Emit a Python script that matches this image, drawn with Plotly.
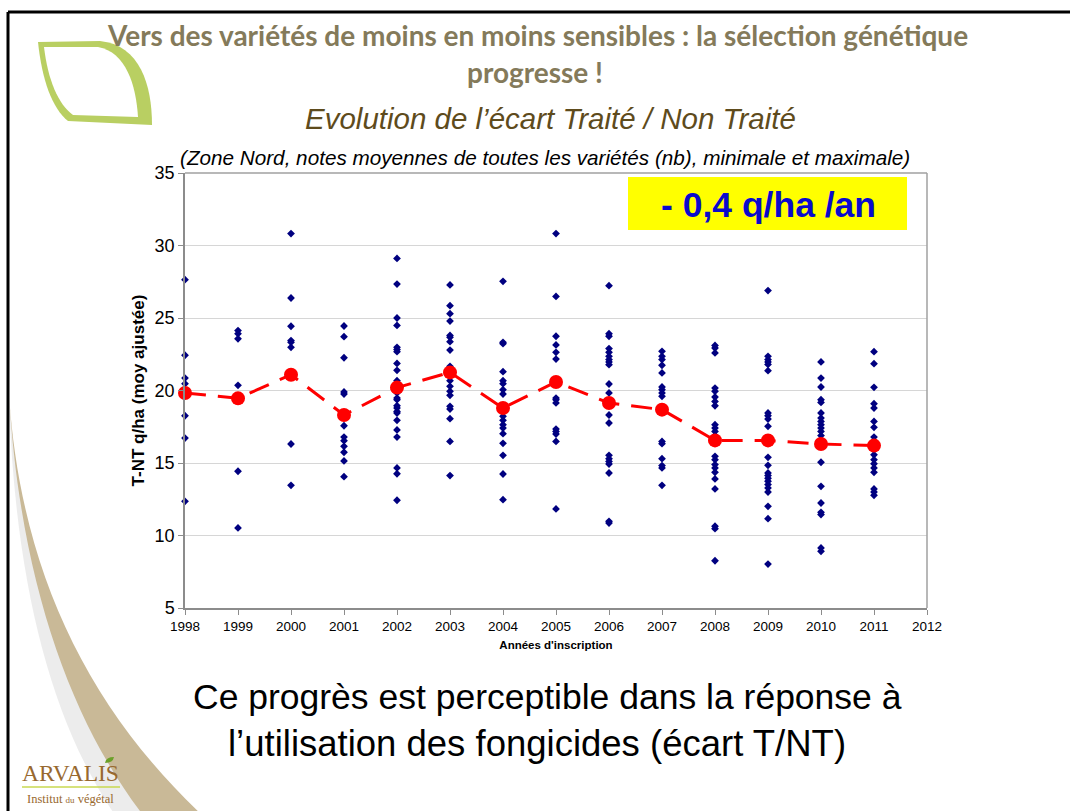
import plotly.graph_objects as go

# ---------------- data ----------------
years = [1998, 1999, 2000, 2001, 2002, 2003, 2004, 2005, 2006, 2007, 2008, 2009, 2010, 2011]

v1998 = [27.64, 22.43, 20.86, 20.47, 19.9, 18.26, 16.72, 12.36]
v1999 = [24.13, 23.92, 23.57, 20.36, 14.43, 10.52]
v2000 = [30.82, 26.38, 24.43, 23.44, 23.32, 22.98, 16.31, 13.46]
v2001 = [24.45, 23.71, 22.26, 19.9, 19.76, 18.2, 17.57, 16.79, 16.54, 16.15, 15.74, 15.14, 14.06]
v2002 = [29.11, 27.34, 25.0, 24.49, 22.98, 22.82, 22.68, 21.87, 21.39, 20.68, 19.83, 19.48,
         19.37, 18.95, 18.79, 18.56, 18.45, 17.94, 17.28, 16.79, 14.66, 14.26, 12.43]
v2003 = [27.28, 25.85, 25.3, 24.79, 23.8, 23.67, 23.37, 22.79, 21.67, 20.68, 20.29, 19.94,
         19.67, 18.91, 18.72, 18.06, 16.49, 14.13]
v2004 = [27.53, 23.32, 23.23, 21.3, 20.68, 20.47, 20.06, 19.76, 18.56, 18.22, 17.94, 17.64,
         17.41, 17.02, 16.36, 15.53, 14.24, 12.47]
v2005 = [30.82, 26.49, 23.74, 23.14, 22.63, 22.17, 19.48, 19.37, 19.14, 17.34, 17.18, 17.0,
         16.49, 11.83]
v2006 = [27.23, 23.92, 23.74, 22.89, 22.63, 22.36, 22.13, 21.97, 21.78, 20.45, 19.83, 18.31,
         17.76, 15.53, 15.3, 15.11, 14.93, 14.31, 10.98, 10.86]
v2007 = [22.7, 22.36, 22.13, 21.74, 21.21, 20.24, 20.06, 19.83, 19.6, 16.49, 16.33, 15.3,
         14.82, 14.66, 13.46]
v2008 = [23.11, 22.93, 22.59, 20.17, 19.94, 19.55, 19.25, 18.95, 17.64, 17.41, 17.18, 16.89,
         15.46, 15.23, 14.89, 14.66, 14.36, 13.9, 13.21, 10.64, 10.47, 8.26]
v2009 = [26.89, 22.36, 22.13, 21.97, 21.8, 21.37, 18.45, 18.26, 18.03, 17.53, 15.39, 14.84,
         14.31, 14.13, 13.94, 13.74, 13.51, 13.28, 13.0, 12.01, 11.16, 8.03]
v2010 = [21.97, 20.86, 20.24, 19.37, 19.18, 18.45, 18.1, 17.87, 17.64, 17.41, 17.18, 16.89,
         15.05, 13.39, 12.24, 11.6, 11.44, 9.14, 8.91]
v2011 = [22.68, 21.85, 20.22, 19.09, 18.79, 17.87, 17.46, 16.79, 16.49, 15.92, 15.57, 15.23,
         14.95, 14.66, 14.36, 13.21, 13.0, 12.77]

means = [19.83, 19.46, 21.09, 18.31, 20.2, 21.25, 18.79, 20.59, 19.14, 18.68, 16.56, 16.56, 16.31, 16.2]

x_ticks = list(range(1998, 2013))
y_ticks = [5, 10, 15, 20, 25, 30, 35]

per_year = [v1998, v1999, v2000, v2001, v2002, v2003, v2004, v2005, v2006, v2007,
            v2008, v2009, v2010, v2011]
sx, sy = [], []
for yr, vals in zip(years, per_year):
    sx += [yr] * len(vals)
    sy += vals

# ---------------- layout geometry (pixels) ----------------
W, H = 1070, 811
L, R, T, B = 185, 927, 173, 608


def px(x):
    return (x - L) / (R - L)


def py(y):
    return (B - y) / (B - T)


def path(cmds):
    out = []
    for c in cmds:
        if isinstance(c, str):
            out.append(c)
        else:
            out.append(f"{px(c[0]):.5f},{py(c[1]):.5f}")
    return " ".join(out)


fig = go.Figure()
fig.add_trace(go.Scatter(
    x=sx, y=sy, mode="markers", cliponaxis=False,
    marker=dict(symbol="diamond", size=6, color="#000080"),
    showlegend=False, hoverinfo="skip"))
fig.add_trace(go.Scatter(
    x=years, y=means, mode="lines+markers", cliponaxis=False,
    line=dict(color="#FF0000", width=3, dash="21px,12px"),
    marker=dict(symbol="circle", size=14, color="#FF0000"),
    showlegend=False, hoverinfo="skip"))

shapes = []
# slide frame (top + left)
shapes.append(dict(type="line", xref="paper", yref="paper", x0=px(8), y0=py(12), x1=px(1075), y1=py(12),
                   line=dict(color="black", width=3), layer="above"))
shapes.append(dict(type="line", xref="paper", yref="paper", x0=px(8), y0=py(12), x1=px(8), y1=py(815),
                   line=dict(color="black", width=3), layer="above"))
# leaf (green)
shapes.append(dict(type="path", xref="paper", yref="paper", layer="below",
                   path=path(["M", (38, 42), "L", (100, 41), "C", (140, 45), (152, 85), (152, 125),
                              "L", (68, 121), "C", (52, 108), (42, 80), (38, 42), "Z"]),
                   fillcolor="#B9CF62", line=dict(width=0)))
shapes.append(dict(type="path", xref="paper", yref="paper", layer="below",
                   path=path(["M", (44, 47), "L", (98, 47), "C", (126, 52), (136, 85), (138, 117),
                              "L", (73, 115), "C", (58, 104), (48, 80), (44, 47), "Z"]),
                   fillcolor="white", line=dict(width=0)))
# swoosh shadow + beige band
shapes.append(dict(type="path", xref="paper", yref="paper", layer="below",
                   path=path(["M", (9, 400), "C", (20, 560), (75, 700), (180, 815),
                              "L", (115, 815), "C", (50, 720), (15, 580), (9, 400), "Z"]),
                   fillcolor="rgba(150,150,150,0.18)", line=dict(width=0)))
shapes.append(dict(type="path", xref="paper", yref="paper", layer="below",
                   path=path(["M", (9, 395), "C", (20, 560), (80, 700), (202, 815),
                              "L", (143, 815), "C", (70, 720), (20, 580), (9, 395), "Z"]),
                   fillcolor="#C9B997", line=dict(width=0)))
# plot frame (top and right)
shapes.append(dict(type="line", xref="paper", yref="paper", x0=0, y0=1, x1=1, y1=1,
                   line=dict(color="#A0A0A0", width=1.5)))
shapes.append(dict(type="line", xref="paper", yref="paper", x0=1, y0=0, x1=1, y1=1,
                   line=dict(color="#A0A0A0", width=1.5)))
# yellow box
shapes.append(dict(type="rect", xref="paper", yref="paper", x0=px(628), y0=py(230), x1=px(907), y1=py(177),
                   fillcolor="#FFFF00", line=dict(width=0), layer="below"))
# logo underline and leaf
shapes.append(dict(type="line", xref="paper", yref="paper", x0=px(22), y0=py(787), x1=px(120), y1=py(787),
                   line=dict(color="#C8D850", width=1.5)))
shapes.append(dict(type="path", xref="paper", yref="paper",
                   path=path(["M", (105, 763), "Q", (106, 757), (114, 757), "Q", (113, 763), (105, 763), "Z"]),
                   fillcolor="#6BA02A", line=dict(width=0)))

ann = []


def text(t, x, y, size, color, family, xanchor="center", yanchor="middle", **kw):
    ann.append(dict(text=t, x=px(x), y=py(y), xref="paper", yref="paper", showarrow=False,
                    xanchor=xanchor, yanchor=yanchor,
                    font=dict(size=size, color=color, family=family), **kw))


text("<b>Vers des variétés de moins en moins sensibles : la sélection génétique</b>", 537, 35, 28,
     "#847A5A", "Lato")
text("<b>progresse !</b>", 535, 72, 28, "#847A5A", "Lato")
text("<i>Evolution de l’écart Traité / Non Traité</i>", 550, 118, 29.5, "#5E4B1C", "Liberation Sans")
text("<i>(Zone Nord, notes moyennes de toutes les variétés (nb), minimale et maximale)</i>", 545, 157,
     20.7, "black", "Liberation Sans")
text("<b>- 0,4 q/ha /an</b>", 768, 205, 35.5, "#0A0ACC", "Liberation Sans")
text("Ce progrès est perceptible dans la réponse à", 547, 697, 35.5, "black", "Liberation Sans")
text("l’utilisation des fongicides (écart T/NT)", 537, 743, 36.5, "black", "Liberation Sans")
text("ARVALIS", 70, 773, 23.5, "#98692F", "Liberation Serif")
text("Institut <span style='font-size:9px'>du</span> végétal", 70, 799, 12.5, "#98692F", "Liberation Serif")

fig.update_layout(
    width=W, height=H, autosize=False,
    margin=dict(l=L, r=W - R, t=T, b=H - B, pad=0),
    paper_bgcolor="white", plot_bgcolor="white",
    shapes=shapes, annotations=ann,
    xaxis=dict(range=[1998, 2012], tickmode="array", tickvals=x_ticks, ticktext=[str(v) for v in x_ticks],
               showgrid=False, zeroline=False, showline=True, linecolor="#8C8C8C", linewidth=1.5,
               ticks="outside", ticklen=5, tickcolor="#8C8C8C",
               tickfont=dict(size=13.5, family="Liberation Sans", color="black"),
               title=dict(text="<b>Années d'inscription</b>", font=dict(size=11.5, family="Liberation Sans",
                                                                        color="black"), standoff=8)),
    yaxis=dict(range=[5, 35], tickmode="array", tickvals=y_ticks,
               showgrid=True, gridcolor="#D6D6D6", gridwidth=1, zeroline=False,
               showline=True, linecolor="#8C8C8C", linewidth=1.5,
               ticks="outside", ticklen=5, tickcolor="#8C8C8C",
               tickfont=dict(size=18, family="Liberation Sans", color="black"),
               title=dict(text="<b>T-NT q/ha (moy ajustée)</b>", font=dict(size=17, family="Liberation Sans",
                                                                            color="black"), standoff=6)),
)

fig.write_html("out.html", config={"displayModeBar": False},
               post_script="document.body.style.margin='0';document.body.style.padding='0';"
                           "document.body.style.overflow='hidden';")
